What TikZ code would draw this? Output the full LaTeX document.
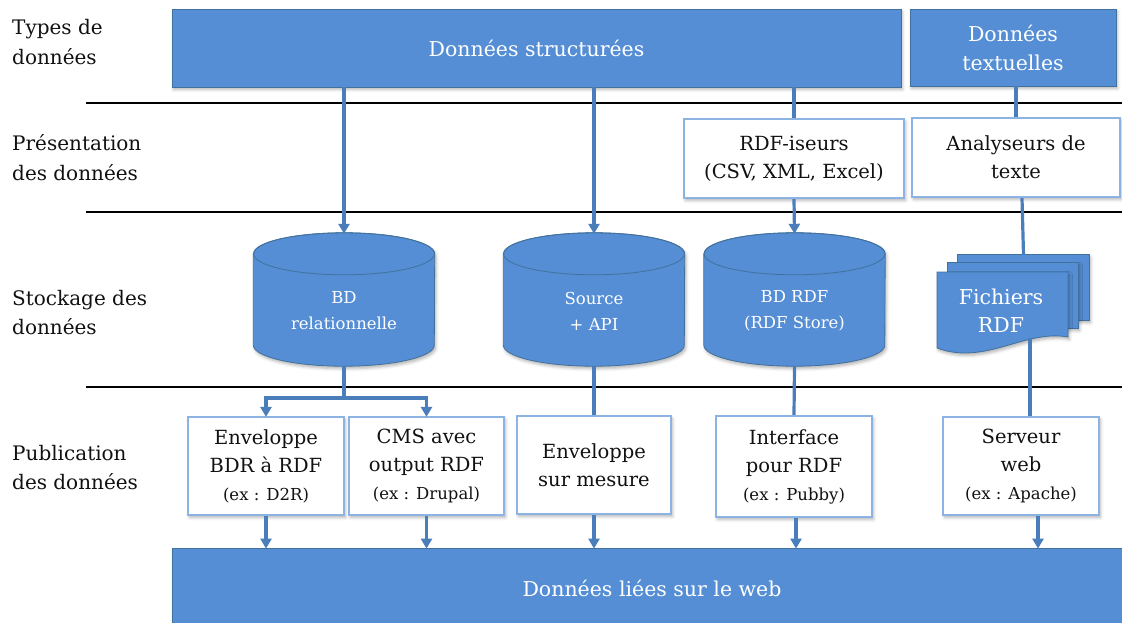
\documentclass[tikz,border=0pt]{standalone}
\usepackage{fontspec}
\setmainfont{DejaVu Serif}
\usetikzlibrary{arrows.meta,shadows,shadows.blur,calc}
\definecolor{fillblue}{HTML}{558ED5}
\definecolor{edgeblue}{HTML}{41719C}
\definecolor{lineblue}{HTML}{4A7EBB}
\definecolor{paleblue}{HTML}{8DB3E2}
\definecolor{txt}{HTML}{111111}
\begin{document}
\begin{tikzpicture}[x=1pt,y=-1pt,
  shad/.style={blur shadow={shadow xshift=1.5pt,shadow yshift=-2.5pt,shadow blur radius=3pt,shadow opacity=30}},
  bluebox/.style={shad,draw=edgeblue,line width=0.8pt,fill=fillblue,text=white,align=center,inner sep=0pt,
    font=\fontsize{20.5}{29}\selectfont},
  whitebox/.style={shad,draw=paleblue,line width=2.2pt,fill=white,text=txt,align=center,inner sep=0pt,
    font=\fontsize{19.5}{28}\selectfont},
  smalltxt/.style={font=\fontsize{16.5}{27}\selectfont},
  cylarea/.style={inner sep=0pt,minimum width=181pt,minimum height=133pt},
  cylbody/.style={shad,fill=fillblue,draw=edgeblue,line width=0.8pt},
  cyltext/.style={text=white,align=center,font=\fontsize{16.5}{26}\selectfont,inner sep=0pt},
  rowlabel/.style={anchor=west,align=left,text=txt,inner sep=0pt,font=\fontsize{20}{29.5}\selectfont},
  sepline/.style={line width=2.6pt,black},
  conn/.style={draw=lineblue,line width=3.2pt},
  arr/.style={conn,-{Triangle[width=11pt,length=10pt]},shorten >=-1pt}
]
\useasboundingbox (0,0) rectangle (1122,623);

% row labels
\node[rowlabel] (l1) at (12,42) {Types de\\données};
\node[rowlabel] (l2) at (12,157.5) {Présentation\\des données};
\node[rowlabel] (l3) at (12,312.5) {Stockage des\\données};
\node[rowlabel] (l4) at (12,467.5) {Publication\\des données};

% separator lines
\draw[sepline] (86,103) -- (1122,103);
\draw[sepline] (86,212) -- (1122,212);
\draw[sepline] (86,387) -- (1122,387);

% top row
\node[bluebox,minimum width=729pt,minimum height=78pt] (ds) at (536.5,48) {Données structurées};
\node[bluebox,minimum width=206pt,minimum height=77pt] (dt) at (1013,47.5) {Données\\textuelles};

% presentation row
\node[whitebox,minimum width=220pt,minimum height=79pt] (rdfi) at (794,158.5) {RDF-iseurs\\(CSV, XML, Excel)};
\node[whitebox,minimum width=208pt,minimum height=79pt] (ana) at (1016,157.5) {Analyseurs de\\texte};

% storage row: cylinders
\node[cylarea] (c1) at (344,299.5) {};
\node[cylarea] (c2) at (594,299.5) {};
\node[cylarea] (c3) at (794.5,299.5) {};
\foreach \c in {c1,c2,c3}{
  \path[cylbody] ([yshift=-21pt]\c.north west) -- ([yshift=21pt]\c.south west)
    arc[start angle=180,end angle=0,x radius=90.5,y radius=21]
    -- ([yshift=-21pt]\c.north east)
    arc[start angle=0,end angle=-180,x radius=90.5,y radius=21] -- cycle;
  \draw[edgeblue,line width=0.8pt] ([yshift=-21pt]\c.north) ellipse[x radius=90.5,y radius=21];
}
\node[cyltext] (c1t) at ([yshift=-11.5pt]c1.center) {BD\\relationnelle};
\node[cyltext] (c2t) at ([yshift=-11.5pt]c2.center) {Source\\+ API};
\node[cyltext] (c3t) at ([yshift=-11.5pt]c3.center) {BD RDF\\(RDF Store)};

% storage row: multi-document
\node[inner sep=0pt,minimum width=131pt,minimum height=65pt] (ficb) at (1023.5,287.5) {};
\node[inner sep=0pt,minimum width=130pt,minimum height=65pt] (ficm) at (1013,295.5) {};
\path[cylbody] (ficb.north west) rectangle (ficb.south east);
\path[cylbody] (ficm.north west) rectangle (ficm.south east);
\path[cylbody] (937,272) -- (1068,272) -- (1068,337)
  .. controls (1025,329) and (985,366) .. (937,348) -- cycle;
\node[text=white,align=center,inner sep=0pt,font=\fontsize{20.5}{28}\selectfont] (fic) at (1001,311) {Fichiers\\RDF};
\coordinate (ficout) at (1030,338);

% publication row
\node[whitebox,minimum width=156pt,minimum height=98pt] (pb1) at (266,466)
  {Enveloppe\\BDR à RDF\\{\fontsize{16.5}{27}\selectfont (ex : D2R)}};
\node[whitebox,minimum width=155pt,minimum height=98pt] (pb2) at (426.5,466)
  {CMS avec\\output RDF\\{\fontsize{16.5}{27}\selectfont (ex : Drupal)}};
\node[whitebox,minimum width=154pt,minimum height=98pt] (pb3) at (594,465)
  {Enveloppe\\sur mesure};
\node[whitebox,minimum width=156pt,minimum height=101pt] (pb4) at (794,466.5)
  {Interface\\pour RDF\\{\fontsize{16.5}{27}\selectfont (ex : Pubby)}};
\node[whitebox,minimum width=156pt,minimum height=98pt] (pb5) at (1021,466)
  {Serveur\\web\\{\fontsize{16.5}{27}\selectfont (ex : Apache)}};

% bottom bar
\node[bluebox,minimum width=960pt,minimum height=80pt] (bb) at (652,588) {Données liées sur le web};

% connectors
\draw[arr] (ds.south -| c1.north) -- (c1.north);
\draw[arr] (ds.south -| c2.north) -- (c2.north);
\draw[conn] (ds.south -| rdfi.north) -- (rdfi.north);
\draw[arr] (rdfi.south) -- (c3.north);
\draw[conn] (dt.south -| ana.north) -- (ana.north);
\draw[conn] ([xshift=6pt]ana.south) -- (ficb.north);
\coordinate (br) at (344,398);
\draw[conn] (c1.south) -- (br);
\draw[arr] (br) -| (pb1.north);
\draw[arr] (br) -| (pb2.north);
\draw[conn] (c2.south) -- (pb3.north);
\draw[conn] (c3.south) -- (pb4.north);
\draw[conn] (ficout) -- (ficout |- pb5.north);
\draw[arr] (pb1.south) -- (pb1.south |- bb.north);
\draw[arr] (pb2.south) -- (pb2.south |- bb.north);
\draw[arr] (pb3.south) -- (pb3.south |- bb.north);
\draw[arr] ([xshift=2pt]pb4.south) -- ([xshift=2pt]pb4.south |- bb.north);
\draw[arr] ([xshift=17pt]pb5.south) -- ([xshift=17pt]pb5.south |- bb.north);
\end{tikzpicture}
\end{document}
